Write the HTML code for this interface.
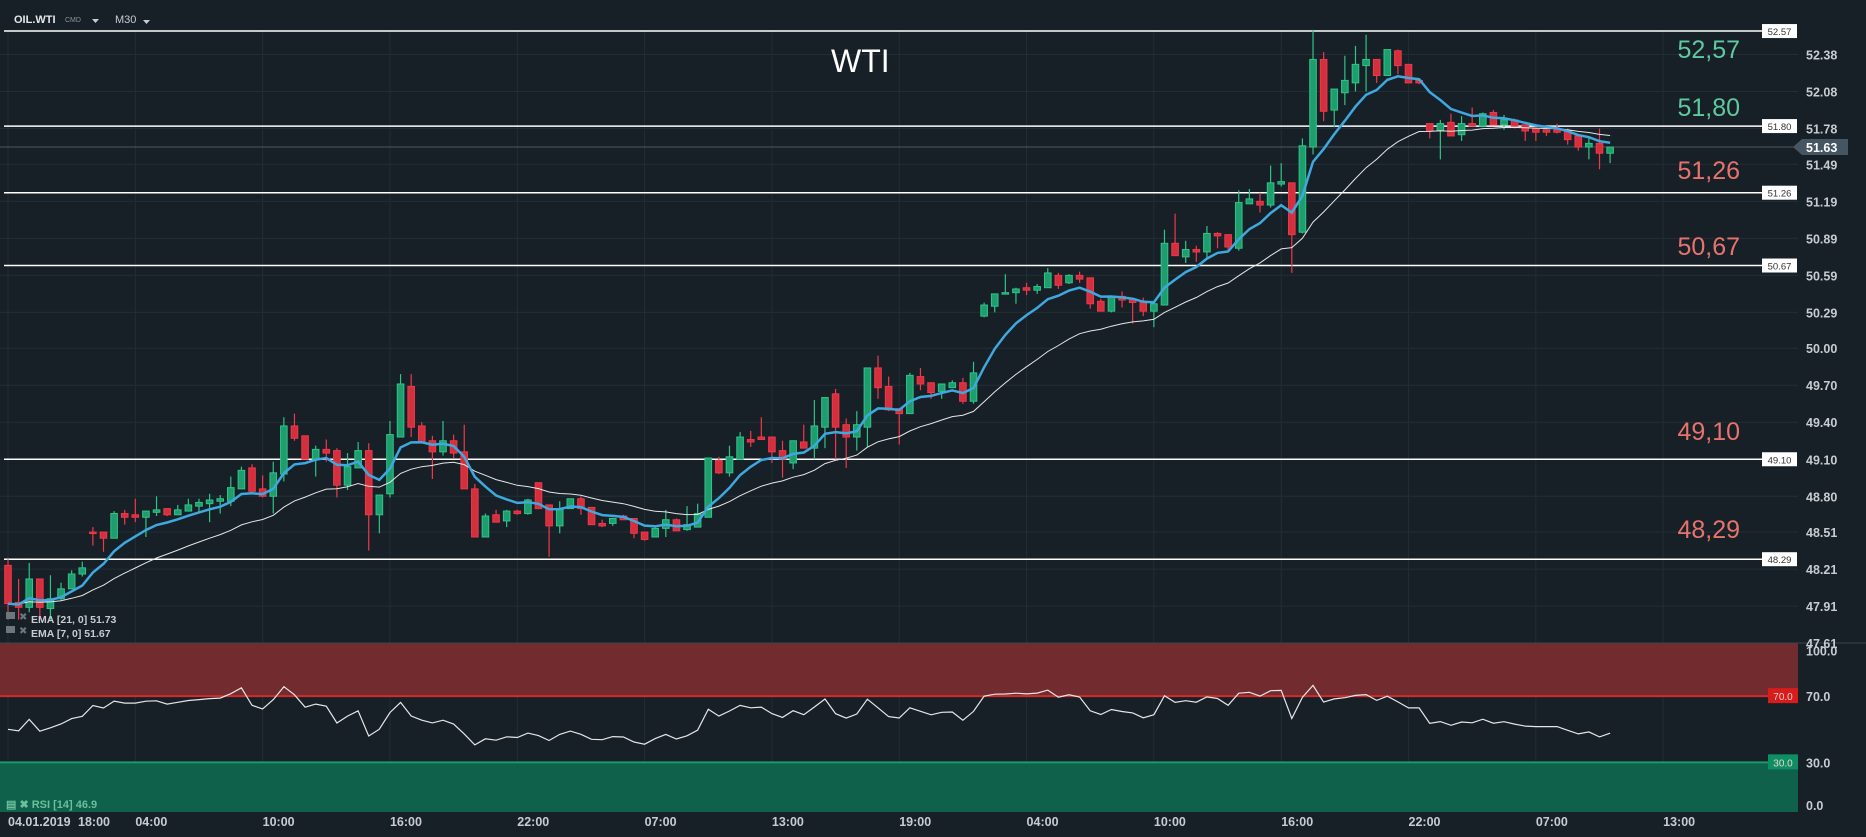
<!DOCTYPE html>
<html><head><meta charset="utf-8"><style>
html,body{margin:0;padding:0;background:#172027;width:1866px;height:837px;overflow:hidden;font-family:"Liberation Sans",sans-serif}
svg{display:block}
</style></head><body>
<svg id="chart" width="1866" height="837" viewBox="0 0 1866 837" xmlns="http://www.w3.org/2000/svg">
<rect x="0" y="0" width="1866" height="837" fill="#172027"/>
<g id="grid"></g>
<g id="rsiPanel"></g>
<g id="levels"></g>
<g id="candles"></g>
<g id="emas"></g>
<g id="axes"></g>
<g>
<text x="14" y="23" fill="#e6e8ea" font-size="11" font-weight="bold">OIL.WTI</text>
<text x="65" y="22" fill="#8a949c" font-size="7">CMD</text>
<path d="M92,19 L99,19 L95.5,23 Z" fill="#c8ccd0"/>
<text x="115" y="23" fill="#c8ccd0" font-size="11">M30</text>
<path d="M143,20 L150,20 L146.5,24 Z" fill="#c8ccd0"/>
</g>
<text x="831" y="72" fill="#ffffff" font-size="32">WTI</text>
<g>
<rect x="6" y="612" width="9" height="7" fill="#6d767d"/><text x="19" y="620" fill="#6d767d" font-size="10">✖</text>
<text x="31" y="623" fill="#c8ccd0" font-size="10.5" font-weight="bold">EMA  [21, 0]  51.73</text>
<rect x="6" y="626" width="9" height="7" fill="#6d767d"/><text x="19" y="634" fill="#6d767d" font-size="10">✖</text>
<text x="31" y="637" fill="#c8ccd0" font-size="10.5" font-weight="bold">EMA  [7, 0]  51.67</text>
</g>
</svg>
<script>
const opens=[48.24,47.94,47.90,48.13,47.89,47.97,48.05,48.17,48.51,48.51,48.46,48.66,48.65,48.63,48.67,48.70,48.65,48.68,48.72,48.74,48.76,48.76,48.86,49.03,48.86,48.80,48.98,49.37,49.29,49.10,49.18,49.17,48.89,49.03,49.17,48.65,48.82,49.28,49.69,49.37,49.25,49.16,49.25,49.16,48.86,48.47,48.65,48.60,48.68,48.66,48.91,48.73,48.56,48.70,48.78,48.71,48.58,48.58,48.64,48.62,48.51,48.47,48.54,48.61,48.53,48.55,48.63,49.09,48.99,49.10,49.26,49.28,49.28,49.17,49.07,49.24,49.19,49.36,49.63,49.38,49.28,49.36,49.84,49.69,49.51,49.47,49.77,49.72,49.65,49.68,49.72,49.57,50.26,50.34,50.44,50.45,50.49,50.47,50.49,50.59,50.53,50.59,50.57,50.38,50.30,50.42,50.40,50.38,50.30,50.35,50.85,50.74,50.80,50.78,50.93,50.92,50.81,51.17,51.19,51.16,51.33,51.34,50.94,51.63,52.34,51.93,52.07,52.15,52.29,52.34,52.21,52.41,52.30,52.17,51.82,51.76,51.83,51.73,51.82,51.80,51.91,51.81,51.85,51.81,51.78,51.77,51.77,51.76,51.72,51.63,51.66,51.58];
const closes=[47.93,47.90,48.13,47.90,47.97,48.05,48.17,48.22,48.50,48.46,48.66,48.63,48.63,48.68,48.69,48.65,48.69,48.73,48.75,48.77,48.78,48.87,49.01,48.84,48.80,48.99,49.37,49.27,49.10,49.18,49.15,48.89,49.04,49.17,48.65,48.81,49.30,49.71,49.36,49.24,49.16,49.25,49.15,48.86,48.47,48.64,48.59,48.68,48.66,48.77,48.70,48.56,48.70,48.78,48.70,48.57,48.56,48.62,48.61,48.50,48.45,48.54,48.61,48.52,48.57,48.66,49.11,48.99,49.12,49.28,49.24,49.26,49.16,49.10,49.25,49.19,49.37,49.60,49.36,49.28,49.38,49.84,49.68,49.50,49.47,49.78,49.71,49.64,49.71,49.72,49.57,49.80,50.35,50.44,50.45,50.48,50.47,50.50,50.61,50.51,50.59,50.56,50.36,50.30,50.42,50.39,50.37,50.30,50.36,50.85,50.75,50.80,50.78,50.93,50.91,50.82,51.18,51.21,51.16,51.34,51.35,50.92,51.64,52.34,51.92,52.10,52.17,52.30,52.34,52.21,52.42,52.29,52.15,52.15,51.76,51.82,51.72,51.82,51.80,51.90,51.81,51.85,51.80,51.76,51.75,51.75,51.75,51.69,51.63,51.66,51.58,51.63];
const highs=[48.29,48.13,48.26,48.13,48.16,48.10,48.20,48.27,48.55,48.51,48.68,48.69,48.78,48.68,48.80,48.70,48.73,48.78,48.78,48.82,48.81,48.96,49.04,49.06,48.97,49.08,49.44,49.47,49.29,49.21,49.26,49.19,49.15,49.24,49.23,48.81,49.41,49.79,49.79,49.40,49.29,49.41,49.30,49.38,48.90,48.66,48.69,48.69,48.69,48.78,48.91,48.73,48.76,48.78,48.80,48.71,48.61,48.62,48.65,48.62,48.51,48.55,48.69,48.62,48.72,48.74,49.11,49.12,49.21,49.32,49.33,49.44,49.28,49.25,49.25,49.38,49.58,49.60,49.67,49.43,49.49,49.84,49.94,49.77,49.51,49.80,49.84,49.72,49.71,49.74,49.76,49.89,50.37,50.44,50.60,50.49,50.53,50.52,50.65,50.61,50.60,50.62,50.57,50.40,50.42,50.46,50.40,50.41,50.36,50.96,51.09,50.87,50.83,50.99,50.94,50.92,51.28,51.29,51.26,51.48,51.50,51.34,51.70,52.58,52.40,52.10,52.37,52.45,52.54,52.34,52.42,52.42,52.30,52.17,51.82,51.85,51.90,51.88,51.95,51.91,51.93,51.89,51.86,51.81,51.78,51.78,51.82,51.78,51.72,51.70,51.78,51.63];
const lows=[47.80,47.80,47.86,47.80,47.80,47.96,48.05,48.15,48.40,48.35,48.46,48.57,48.59,48.47,48.64,48.64,48.65,48.68,48.66,48.59,48.66,48.72,48.86,48.84,48.79,48.66,48.92,49.25,49.10,48.96,49.08,48.79,48.85,49.03,48.36,48.50,48.79,49.28,49.28,49.24,48.94,49.13,49.11,48.86,48.47,48.47,48.59,48.55,48.65,48.65,48.70,48.31,48.50,48.70,48.65,48.57,48.55,48.56,48.61,48.46,48.44,48.47,48.47,48.52,48.52,48.55,48.63,48.98,48.96,49.10,49.20,49.26,49.07,48.95,49.02,49.19,49.10,49.19,49.10,49.03,49.17,49.20,49.59,49.49,49.22,49.47,49.66,49.59,49.59,49.68,49.55,49.55,50.25,50.29,50.44,50.36,50.43,50.44,50.49,50.48,50.52,50.53,50.32,50.30,50.29,50.33,50.20,50.26,50.17,50.35,50.75,50.69,50.70,50.73,50.81,50.78,50.79,51.17,51.10,51.14,51.31,50.61,50.93,51.57,51.84,51.79,51.97,52.08,52.08,52.15,52.21,52.22,52.15,52.14,51.70,51.53,51.72,51.68,51.80,51.79,51.81,51.77,51.78,51.68,51.68,51.72,51.74,51.65,51.60,51.53,51.45,51.50];
const priceTicks=["52.38","52.08","51.78","51.49","51.19","50.89","50.59","50.29","50.00","49.70","49.40","49.10","48.80","48.51","48.21","47.91","47.61"];
const levelValues=[52.57,51.80,51.26,50.67,49.10,48.29];
const levelTexts=["52,57","51,80","51,26","50,67","49,10","48,29"];
const levelColors=["#5fc9a0","#5fc9a0","#e8736c","#e8736c","#e8736c","#e8736c"];
const timeLabelIdx=[12,24,36,48,60,72,84,96,108,120,132,144,156];
const timeLabels=["04:00","10:00","16:00","22:00","07:00","13:00","19:00","04:00","10:00","16:00","22:00","07:00","13:00"];
const rsiTicks=[100,70,30,0];
const lastPrice=51.63;

const NS="http://www.w3.org/2000/svg";
const PR=1798;
function xOf(i){return 8+i*10.61;}
function yOf(p){return 54.5+(52.38-p)*123.4;}
function yR(r){return 812-r*1.655;}
function mk(tag,attrs,parent){const e=document.createElementNS(NS,tag);for(const k in attrs)e.setAttribute(k,attrs[k]);parent.appendChild(e);return e;}
const grid=document.getElementById('grid'),axes=document.getElementById('axes'),lv=document.getElementById('levels'),cg=document.getElementById('candles'),eg=document.getElementById('emas'),rp=document.getElementById('rsiPanel');

priceTicks.forEach(t=>{const y=yOf(parseFloat(t));
 const l=mk('line',{x1:0,x2:PR,y1:y,y2:y,stroke:'#222d35','stroke-width':1},grid);
 
 
 const tx=mk('text',{x:1806,y:y+5,fill:'#c8ccd0','font-size':12.5,'font-weight':'bold'},axes);tx.textContent=t;
 
 
});
[0].concat(timeLabelIdx).forEach(i=>{const x=xOf(i);
 const l=mk('line',{x1:x,x2:x,y1:30,y2:812,stroke:'#222d35','stroke-width':1},grid);
 
 
});
mk('line',{x1:0,x2:1866,y1:643,y2:643,stroke:'#3a454e','stroke-width':1},grid);
let t0=mk('text',{x:8,y:826,fill:'#c8ccd0','font-size':12.5,'font-weight':'bold'},axes);t0.textContent="04.01.2019";


let t1=mk('text',{x:78,y:826,fill:'#c8ccd0','font-size':12.5,'font-weight':'bold'},axes);t1.textContent="18:00";


timeLabelIdx.forEach((i,k)=>{const tx=mk('text',{x:xOf(i),y:826,fill:'#c8ccd0','font-size':12.5,'font-weight':'bold'},axes);tx.textContent=timeLabels[k];
 
 
});

let r1=mk('rect',{x:0,y:yR(100)-3,width:PR,height:yR(70)-yR(100)+3,fill:'#722c30'},rp);


mk('line',{x1:0,x2:PR,y1:yR(70),y2:yR(70),stroke:'#d42a2a','stroke-width':2},rp);
let r2=mk('rect',{x:0,y:yR(30),width:PR,height:yR(0)-yR(30),fill:'#0f614b'},rp);


mk('line',{x1:0,x2:PR,y1:yR(30),y2:yR(30),stroke:'#1a9a6a','stroke-width':2},rp);
rsiTicks.forEach(v=>{const tx=mk('text',{x:1806,y:yR(v)+(v==100?9:(v==0?-2:5)),fill:'#c8ccd0','font-size':12.5,'font-weight':'bold'},axes);tx.textContent=v.toFixed(1);
 
 
});
[[70,'#d81c1c'],[30,'#0d8f63']].forEach(([v,c])=>{const y=yR(v);
 const b=mk('rect',{x:1768,y:y-8,width:30,height:15,fill:c},axes);
 
 
 const tx=mk('text',{x:1783,y:y+4,fill:'#f0d0d0','font-size':10,'text-anchor':'middle'},axes);tx.textContent=v.toFixed(1);
});
let rl=mk('text',{x:6,y:808,fill:'#6bbf9a','font-size':11,'font-weight':'bold'},rp);rl.textContent="▤ ✖ RSI [14]  46.9";



levelValues.forEach((v,k)=>{const y=yOf(v);
 const l=mk('line',{x1:4,x2:1764,y1:y,y2:y,stroke:'#ffffff','stroke-width':1.5},lv);
 
 
 const b=mk('rect',{x:1762,y:y-7,width:35,height:14,fill:'#ffffff'},lv);
 
 
 const bt=mk('text',{x:1779.5,y:y+4,fill:'#333','font-size':9.5,'text-anchor':'middle'},lv);bt.textContent=v.toFixed(2);
 const lbl=[49,107,170,246,431,529][k];
 const tx=mk('text',{x:1740,y:lbl+9,fill:levelColors[k],'font-size':25,'text-anchor':'end'},lv);tx.textContent=levelTexts[k];
 
 
});
const ly=yOf(lastPrice);
mk('line',{x1:0,x2:PR,y1:ly,y2:ly,stroke:'#4c5964','stroke-width':1},lv);
let lb=mk('path',{d:`M1793,${ly} L1802,${ly-8} L1848,${ly-8} L1848,${ly+8} L1802,${ly+8} Z`,fill:'#465562'},axes);


let lt=mk('text',{x:1806,y:ly+5,fill:'#ffffff','font-size':12.5,'font-weight':'bold'},axes);lt.textContent=lastPrice.toFixed(2);

closes.forEach((c,i)=>{const o=opens[i],x=xOf(i),up=c>=o;
 const col=up?'#2fc488':'#f0384a',fill=up?'#1e9e6e':'#d42f3d';
 const g=mk('g',{},cg);
 
 
 mk('line',{x1:x,x2:x,y1:yOf(highs[i]),y2:yOf(lows[i]),stroke:col,'stroke-width':1.2},g);
 const t=yOf(Math.max(o,c)),b=yOf(Math.min(o,c));
 mk('rect',{x:x-3.3,y:t,width:6.6,height:Math.max(1.5,b-t),fill:fill,stroke:col,'stroke-width':1},g);
});

function ema(arr,n){const k=2/(n+1);const out=[];let e=arr[0];arr.forEach((v,i)=>{e=i==0?v:v*k+e*(1-k);out.push(e);});return out;}
function pathFrom(vals,yf){return vals.map((v,i)=>(i?'L':'M')+xOf(i).toFixed(1)+','+yf(v).toFixed(1)).join(' ');}
let e21=mk('path',{d:pathFrom(ema(closes,21),yOf),fill:'none',stroke:'#e6e6e6','stroke-width':1},eg);


let e7=mk('path',{d:pathFrom(ema(closes,7),yOf),fill:'none',stroke:'#3ea8df','stroke-width':2.5},eg);



// RSI with seeded (Wilder) averages to avoid warm-up spike
function rsi(arr,n){let ag=0.06,al=0.06;const out=[];arr.forEach((v,i)=>{if(i==0){out.push(50);return;}
 const d=v-arr[i-1],g=Math.max(d,0),l=Math.max(-d,0);
 ag=(ag*(n-1)+g)/n;al=(al*(n-1)+l)/n;
 out.push(al==0?100:100-100/(1+ag/al));});return out;}
let rp2=mk('path',{d:pathFrom(rsi(closes,14),yR),fill:'none',stroke:'#e6e6e6','stroke-width':1.2},rp);


</script>
</body></html>
